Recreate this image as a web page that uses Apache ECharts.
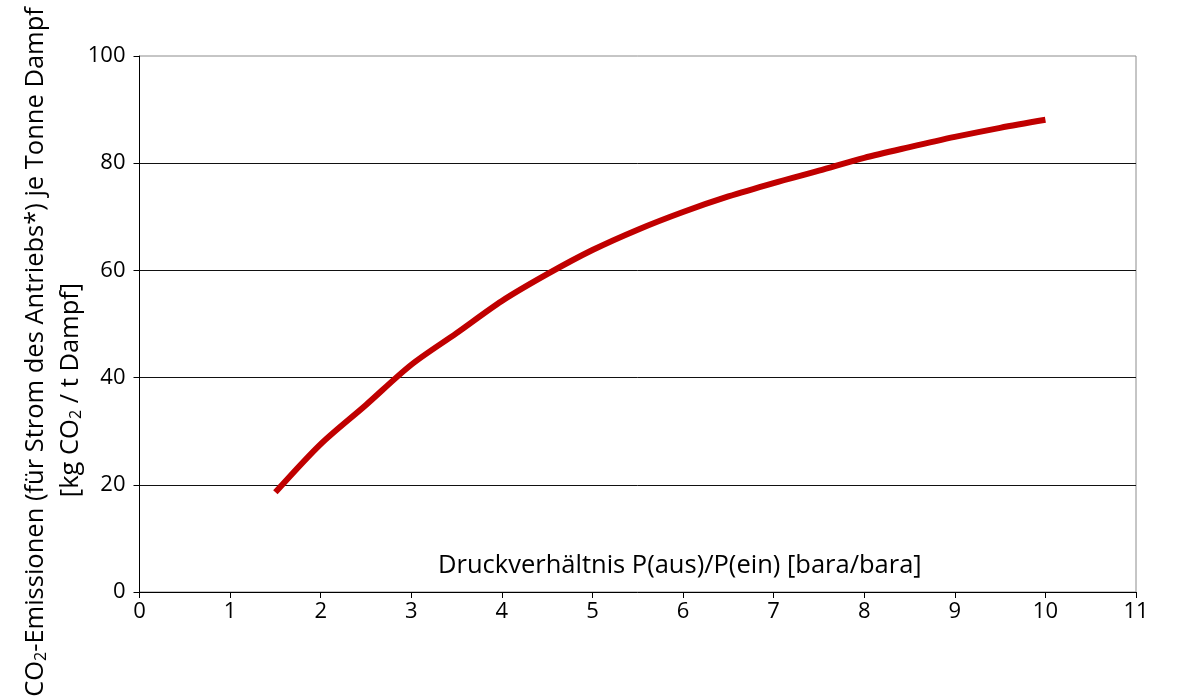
<!DOCTYPE html>
<html>
<head>
<meta charset="utf-8">
<script src="https://cdn.jsdelivr.net/npm/echarts@6/dist/echarts.min.js"></script>
<style>html,body{margin:0;padding:0;background:#fff;}#c{width:1177px;height:700px;}</style>
</head>
<body>
<div id="c"></div>
<script>
const pressureRatio = [1.5, 2, 2.5, 3, 3.5, 4, 4.5, 5, 5.5, 6, 6.5, 7, 7.5, 8, 8.5, 9, 9.5, 10];
const co2Emissions = [18.6, 27.6, 34.9, 42.4, 48.3, 54.3, 59.3, 63.8, 67.6, 70.9, 73.8, 76.3, 78.6, 81.0, 83.0, 84.9, 86.6, 88.1];
const xTicks = [0, 1, 2, 3, 4, 5, 6, 7, 8, 9, 10, 11];
const yTicks = [0, 20, 40, 60, 80, 100];
const xTitle = 'Druckverhältnis P(aus)/P(ein) [bara/bara]';
const yTitle1 = ['CO', '2', '-Emissionen (für Strom des Antriebs*) je Tonne Dampf'];
const yTitle2 = ['[kg CO', '2', ' / t Dampf]'];

const FONT = 'Open Sans';
const chart = echarts.init(document.getElementById('c'), null, {renderer: 'canvas'});
const rich = {
  n: {fontFamily: FONT, fontSize: 25.5, color: '#000'},
  s: {fontFamily: FONT, fontSize: 16, color: '#000', padding: [0, 0, -10, 0]}
};
chart.setOption({
  animation: false,
  backgroundColor: '#fff',
  grid: {left: 139.5, right: 41, top: 56, bottom: 108, show: true, borderColor: '#8c8c8c', borderWidth: 1},
  xAxis: {
    type: 'value', min: xTicks[0], max: xTicks[xTicks.length - 1], interval: 1,
    axisLine: {lineStyle: {color: '#000', width: 1}},
    axisTick: {show: true, inside: false, length: 6, lineStyle: {color: '#000'}},
    axisLabel: {fontFamily: FONT, fontSize: 22, color: '#000', margin: 9},
    splitLine: {show: false}
  },
  yAxis: {
    type: 'value', min: yTicks[0], max: yTicks[yTicks.length - 1], interval: 20,
    axisLine: {show: true, lineStyle: {color: '#000', width: 1}},
    axisTick: {show: true, inside: false, length: 6, lineStyle: {color: '#000'}},
    axisLabel: {fontFamily: FONT, fontSize: 22, color: '#000', margin: 14},
    splitLine: {show: true, showMinLine: false, showMaxLine: false, lineStyle: {color: '#111', width: 1}}
  },
  graphic: [
    {type: 'text', left: 438, top: 553, z: 10,
     style: {text: xTitle, fontFamily: FONT, fontSize: 25.5, fill: '#000'}},
    {type: 'text', x: 36, y: 352, rotation: Math.PI / 2, z: 10,
     style: {text: '{n|' + yTitle1[0] + '}{s|' + yTitle1[1] + '}{n|' + yTitle1[2] + '}', rich: rich,
             align: 'center', verticalAlign: 'middle'}},
    {type: 'text', x: 71, y: 390, rotation: Math.PI / 2, z: 10,
     style: {text: '{n|' + yTitle2[0] + '}{s|' + yTitle2[1] + '}{n|' + yTitle2[2] + '}', rich: rich,
             align: 'center', verticalAlign: 'middle'}}
  ],
  series: [{
    type: 'line',
    data: pressureRatio.map((x, i) => [x, co2Emissions[i]]),
    smooth: 0.3,
    showSymbol: false,
    lineStyle: {color: '#c00000', width: 6, cap: 'butt'}
  }]
});
</script>
</body>
</html>
